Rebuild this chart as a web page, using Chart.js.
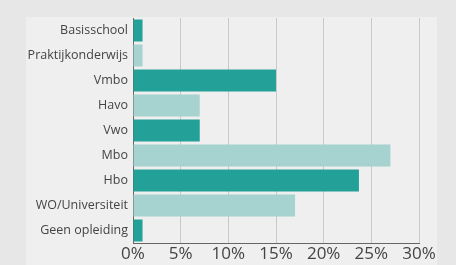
<!DOCTYPE html>
<html>
<head>
<meta charset="utf-8">
<script src="https://cdn.jsdelivr.net/npm/chart.js@4"></script>
<style>
  html, body { margin: 0; padding: 0; background: #e7e7e7; }
  #wrap { width: 456px; height: 265px; position: relative; }
</style>
</head>
<body>
<div id="wrap"><canvas id="chart"></canvas></div>
<script>
const categories = [
  "Basisschool",
  "Praktijkonderwijs",
  "Vmbo",
  "Havo",
  "Vwo",
  "Mbo",
  "Hbo",
  "WO/Universiteit",
  "Geen opleiding",
];
const values = [1, 1, 15, 7, 7, 27, 23.7, 17, 1];
const barColors = [
  "#23a098", "#a6d2cf", "#23a098", "#a6d2cf", "#23a098",
  "#a6d2cf", "#23a098", "#a6d2cf", "#23a098",
];
const xTicks = [0, 5, 10, 15, 20, 25, 30];

const panelBg = {
  id: "panelBg",
  beforeDraw(chart) {
    const ctx = chart.ctx;
    ctx.save();
    ctx.fillStyle = "#efefef";
    ctx.fillRect(26, 17, 411, 248);
    ctx.restore();
  },
};

new Chart(document.getElementById("chart"), {
  type: "bar",
  data: {
    labels: categories,
    datasets: [
      {
        data: values,
        backgroundColor: barColors,
        borderWidth: 0,
        barPercentage: 0.88,
        categoryPercentage: 1,
      },
    ],
  },
  options: {
    indexAxis: "y",
    responsive: true,
    maintainAspectRatio: false,
    animation: false,
    layout: { padding: { top: 18, right: 37, left: 0, bottom: 0 } },
    plugins: { legend: { display: false }, tooltip: { enabled: false } },
    scales: {
      x: {
        min: 0,
        max: 30,
        afterBuildTicks: (axis) => {
          axis.ticks = xTicks.map((v) => ({ value: v }));
        },
        afterFit: (axis) => {
          axis.height = 22;
        },
        grid: {
          color: "#c9c9c9",
          drawTicks: false,
        },
        border: { color: "#666666", width: 1 },
        ticks: {
          color: "#444444",
          padding: 1,
          font: { family: "Open Sans", size: 17 },
          callback: (v) => v + "%",
        },
      },
      y: {
        afterFit: (axis) => {
          axis.width = 133;
        },
        grid: { display: false, drawTicks: false },
        border: { color: "#666666", width: 1 },
        ticks: {
          color: "#444444",
          padding: 5,
          font: { family: "Open Sans", size: 12.5 },
        },
      },
    },
  },
  plugins: [panelBg],
});
</script>
</body>
</html>
